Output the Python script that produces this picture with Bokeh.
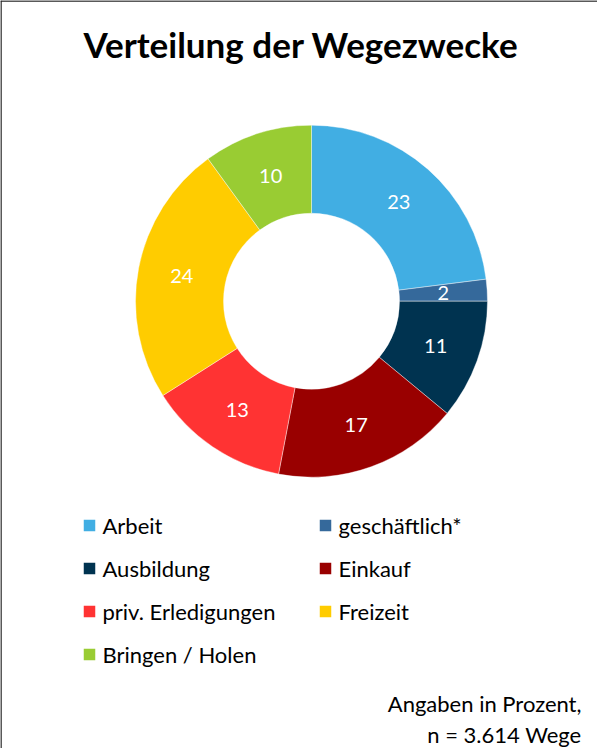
import math
from bokeh.plotting import figure
from bokeh.models import Range1d, Span, ColumnDataSource
from bokeh.core.properties import value
from bokeh.embed import file_html
from bokeh.resources import INLINE

# ---- data ----
title = "Verteilung der Wegezwecke"
categories = ["Arbeit", "geschäftlich*", "Ausbildung", "Einkauf",
              "priv. Erledigungen", "Freizeit", "Bringen / Holen"]
shares = [23, 2, 11, 17, 13, 24, 10]
colors = ["#41AEE3", "#35699B", "#003350", "#990000",
          "#FF3333", "#FFCC00", "#99CC33"]
footer = ["Angaben in Prozent,", "n = 3.614 Wege"]

W, H = 597, 748
FONT = "Lato"

def Y(sy):
    # screen y (window) -> data y
    return 756 - sy

def X(sx):
    return sx - 8

p = figure(width=W, height=H, output_backend="svg", toolbar_location=None,
           x_range=Range1d(0, W), y_range=Range1d(0, H), min_border=0,
           match_aspect=False)
p.axis.visible = False
p.grid.visible = False
p.outline_line_color = None
p.background_fill_color = "white"
p.border_fill_color = "white"

# frame border (left & top visible in the window)
p.add_layout(Span(location=0.5, dimension="height", line_color="#222222", line_width=1.5))
p.add_layout(Span(location=H - 0.5, dimension="width", line_color="#222222", line_width=1.5))

# ---- donut ----
cx, cy = X(319), Y(308.7)
r_out, r_in = 176, 88
total = sum(shares)
starts, ends, lx, ly = [], [], [], []
cum = 0
for v in shares:
    a0 = math.pi / 2 - 2 * math.pi * cum / total
    cum += v
    a1 = math.pi / 2 - 2 * math.pi * cum / total
    starts.append(a0)
    ends.append(a1)
    mid = (a0 + a1) / 2
    rm = (r_out + r_in) / 2
    lx.append(cx + rm * math.cos(mid))
    ly.append(cy + rm * math.sin(mid))

src = ColumnDataSource(dict(start=starts, end=ends, color=colors,
                            lx=lx, ly=ly, lab=[str(v) for v in shares]))
p.annular_wedge(x=cx, y=cy, inner_radius=r_in, outer_radius=r_out,
                start_angle="start", end_angle="end", direction="clock",
                fill_color="color", line_color="white", line_width=0.4,
                source=src)
p.text(x="lx", y="ly", text="lab", source=src, text_color="white",
       text_font=value(FONT), text_font_size="20px",
       text_align="center", text_baseline="middle")

# ---- title ----
p.text(x=[X(308.5)], y=[Y(51)], text=[title], text_font=value(FONT),
       text_font_style="bold", text_font_size="35px", text_color="black",
       text_align="center", text_baseline="middle")

# ---- legend (2 columns) ----
col_x = [X(97), X(333)]
row_y0, row_dy = 533, 43
sq_x, sq_y, tx, ty, tl = [], [], [], [], []
for i, (cat, col) in enumerate(zip(categories, colors)):
    c, r = i % 2, i // 2
    sy = row_y0 + r * row_dy
    sq_x.append(col_x[c]); sq_y.append(Y(sy))
    tx.append(col_x[c] + 13); ty.append(Y(sy)); tl.append(cat)
p.rect(x=sq_x, y=sq_y, width=11.5, height=11.5, fill_color=colors, line_color=None)
p.text(x=tx, y=ty, text=tl, text_font=value(FONT), text_font_size="22px",
       text_color="black", text_align="left", text_baseline="middle")

# ---- footer ----
p.text(x=[X(589), X(589)], y=[Y(711), Y(742)], text=footer,
       text_font=value(FONT), text_font_size="22px", text_color="black",
       text_align="right", text_baseline="middle")

open("out.html", "w").write(file_html(p, INLINE))
